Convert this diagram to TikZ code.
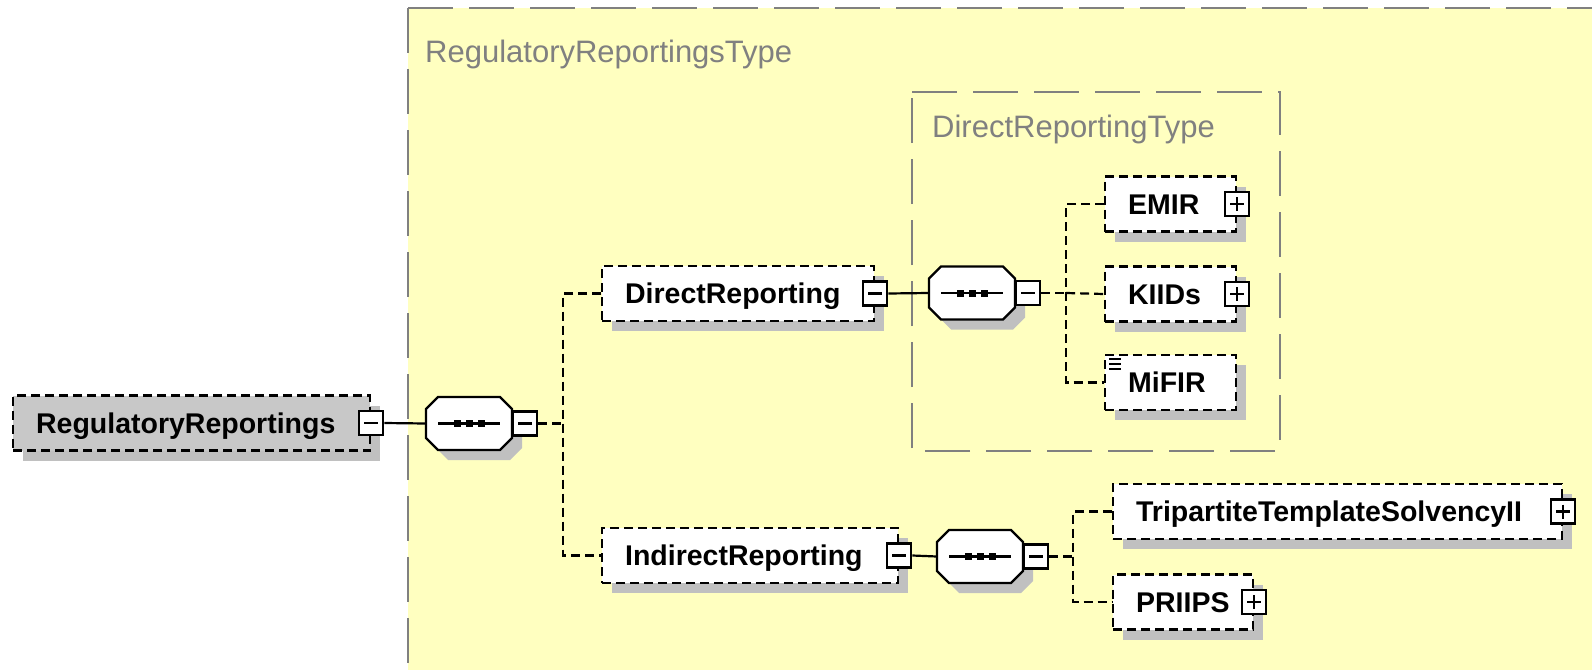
\documentclass[tikz,border=0pt]{standalone}
\usepackage{fontspec}
\setmainfont{Liberation Sans}
\usetikzlibrary{calc, shadows}

\definecolor{bgyellow}{RGB}{255,255,192}
\definecolor{shgray}{RGB}{192,192,192}
\definecolor{rootgray}{RGB}{200,200,200}
\definecolor{typegray}{RGB}{128,128,128}

\newcommand{\elemfont}{\fontsize{28.5pt}{30pt}\selectfont\bfseries}
\newcommand{\typefont}{\fontsize{31pt}{32pt}\selectfont}

% octagon of a sequence compositor, centred at (#2,#3)
\newcommand{\octagon}[3][]{%
  \path[#1] ({#2-31},{#3-26.5}) -- ({#2+31},{#3-26.5}) -- ({#2+43},{#3-14.5})
    -- ({#2+43},{#3+14.5}) -- ({#2+31},{#3+26.5}) -- ({#2-31},{#3+26.5})
    -- ({#2-43},{#3+14.5}) -- ({#2-43},{#3-14.5}) -- cycle;}

\newcommand{\seqcomp}[3]{%
  \octagon[fill=shgray]{#2+10}{#3+10}
  \octagon[draw, line width=2.2pt, fill=white]{#2}{#3}
  \draw[line width=2.2pt] ({#2-31},#3) -- ({#2+31},#3);
  \foreach \dx in {-12,0,12}
    \fill ({#2+\dx-3.5},{#3-3.5}) rectangle ({#2+\dx+3.5},{#3+3.5});
  \node[seqanchor] (#1) at (#2,#3) {};
  \node[collapse] (#1m) at ({#2+56},#3) {};}

\begin{document}
\begin{tikzpicture}[x=1pt, y=-1pt,
    elem/.style={draw, line width=2.2pt, dash pattern=on 9pt off 5pt, fill=white,
      anchor=west, inner xsep=23pt, inner ysep=0pt, minimum height=55pt,
      text height=20.5pt, text depth=0pt, align=left, font=\elemfont,
      drop shadow={shadow xshift=10pt, shadow yshift=-10pt, fill=shgray, opacity=1}},
    toggle/.style={draw, line width=2.2pt, fill=white, minimum size=24pt, inner sep=0pt},
    collapse/.style={toggle, path picture={
      \draw[line width=2.2pt] ([xshift=5pt]path picture bounding box.west)
        -- ([xshift=-5pt]path picture bounding box.east);}},
    expand/.style={toggle, path picture={
      \draw[line width=2.2pt] ([xshift=5pt]path picture bounding box.west)
        -- ([xshift=-5pt]path picture bounding box.east);
      \draw[line width=2.2pt] ([yshift=-5pt]path picture bounding box.north)
        -- ([yshift=5pt]path picture bounding box.south);}},
    seqanchor/.style={inner sep=0pt, minimum width=86pt, minimum height=53pt},
    typebox/.style={draw=typegray, line width=2.2pt, dash pattern=on 45pt off 16pt},
    typelabel/.style={anchor=base west, inner sep=0pt, font=\typefont, text=typegray},
    conn/.style={line width=2.2pt, dash pattern=on 9pt off 5pt},
    link/.style={line width=2.2pt}]
\clip (0,0) rectangle (1592,669);

\fill[bgyellow] (408,8) rectangle (1620,700);
\draw[typebox] (408,8) -- (1620,8);
\draw[typebox] (408,8) -- (408,700);
\node[typelabel] (rrtype) at (425,63) {RegulatoryReportingsType};

\draw[typebox] (912,92) -- (1280,92) -- (1280,451) -- (912,451) -- cycle;
\node[typelabel] (drtype) at (932,137) {DirectReportingType};

\node[elem, fill=rootgray, text width=311pt] (root) at (12,423) {RegulatoryReportings};
\node[elem, text width=226pt] (direct) at (601,293.5) {DirectReporting};
\node[elem, text width=250pt] (indirect) at (601,555.5) {IndirectReporting};
\node[elem, text width=85pt] (emir) at (1104,204) {EMIR};
\node[elem, text width=85pt] (kiids) at (1104,294) {KIIDs};
\node[elem, text width=85pt] (mifir) at (1104,382.5) {MiFIR};
\node[elem, text width=403pt] (tripartite) at (1112,511.5) {TripartiteTemplateSolvencyII};
\node[elem, text width=94pt] (priips) at (1112,602) {PRIIPS};

\foreach \y in {359,364,369}
  \draw[line width=1.5pt] (1109,\y) -- (1121,\y);

\node[collapse] (rootm) at (root.east) {};
\node[collapse] (directm) at (direct.east) {};
\node[collapse] (indirectm) at (indirect.east) {};
\node[expand] (emirp) at (emir.east) {};
\node[expand] (kiidsp) at (kiids.east) {};
\node[expand] (tripartitep) at (tripartite.east) {};
\node[expand] (priipsp) at (priips.east) {};

\seqcomp{seqa}{469}{423.5}
\seqcomp{seqb}{972}{293}
\seqcomp{seqc}{980}{556.5}

\coordinate (ja) at ($(seqam.east)+(25,0)$);
\coordinate (jb) at ($(seqbm.east)+(25,0)$);
\coordinate (jc) at ($(seqcm.east)+(24,0)$);

\draw[link] (rootm.east) -- (seqa.west);
\draw[conn] (seqam.east) -- (ja);
\draw[conn] (direct.west) -| (ja) |- (indirect.west);

\draw[link] (directm.east) -- (seqb.west);
\draw[conn] (seqbm.east) -- (jb);
\draw[conn] (emir.west) -| (jb) |- (mifir.west);
\draw[conn] (jb) -- (kiids.west);

\draw[link] (indirectm.east) -- (seqc.west);
\draw[conn] (seqcm.east) -- (jc);
\draw[conn] (tripartite.west) -| (jc) |- (priips.west);
\end{tikzpicture}
\end{document}
